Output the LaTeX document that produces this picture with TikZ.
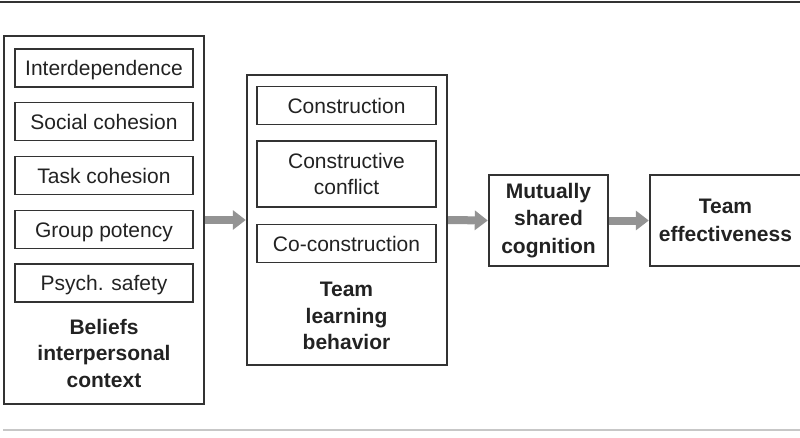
\documentclass[tikz,border=0pt]{standalone}
\usepackage{fontspec}
\setmainfont{Liberation Sans}
\usetikzlibrary{arrows.meta}
\definecolor{boxline}{HTML}{333333}
\definecolor{txt}{HTML}{222222}
\definecolor{arr}{HTML}{939393}
\begin{document}
\begin{tikzpicture}[x=1pt,y=-1pt,
  every node/.style={font=\fontsize{21}{26.5}\selectfont, text=txt, align=center, inner sep=0pt},
  frame/.style={draw=boxline, line width=1.2pt, rectangle},
  item/.style={frame, minimum width=178pt, minimum height=38pt, text height=15pt, text depth=0pt},
  title/.style={font=\fontsize{21}{26.5}\selectfont\bfseries},
  flow/.style={draw=arr, line width=8pt, -{Triangle[length=13pt,width=19pt]}, shorten <=0.6pt, shorten >=0.6pt}
]
\useasboundingbox (0,0) rectangle (800,437);
\draw[draw=boxline, line width=2.5pt] (0,2) -- (800,2);
\draw[draw=black!22, line width=1.2pt] (3,430) -- (800,430);

% left group
\node[frame, minimum width=200pt, minimum height=368pt] (ctx) at (104,220) {};
\node[item] (inter) at (104,68) {Interdependence};
\node[item] (soc) at (104,121.5) {Social cohesion};
\node[item] (task) at (104,175.5) {Task cohesion};
\node[item] (pot) at (104,229.5) {Group potency};
\node[item] (psy) at (104,283) {Psych. safety};
\node[title] (ctxlab) at (104,353) {Beliefs\\interpersonal\\context};

% middle group
\node[frame, minimum width=200pt, minimum height=290pt] (tlb) at (347,220) {};
\node[item, minimum width=179pt] (cons) at (346.5,105.5) {Construction};
\node[item, minimum width=179pt, minimum height=66pt, text height=, text depth=] (conf) at (346.5,174) {Constructive\\conflict};
\node[item, minimum width=179pt] (cocon) at (346.5,243.5) {Co-construction};
\node[title] (tlblab) at (346.5,316) {Team\\learning\\behavior};

% right boxes
\node[frame, title, minimum width=119pt, minimum height=91pt, font=\fontsize{21}{27.5}\selectfont\bfseries] (msc) at (548.5,220.5) {Mutually\\shared\\cognition};
\node[frame, minimum width=164pt, minimum height=91pt] (te) at (732,220.5) {};
\node[title, font=\fontsize{21}{27.5}\selectfont\bfseries] (telab) at (725.5,220.5) {Team\\effectiveness};

% arrows
\draw[flow] (ctx.east) -- (tlb.west);
\draw[flow] (tlb.east) -- (msc.west);
\draw[flow] (msc.east) -- (te.west);
\end{tikzpicture}
\end{document}
